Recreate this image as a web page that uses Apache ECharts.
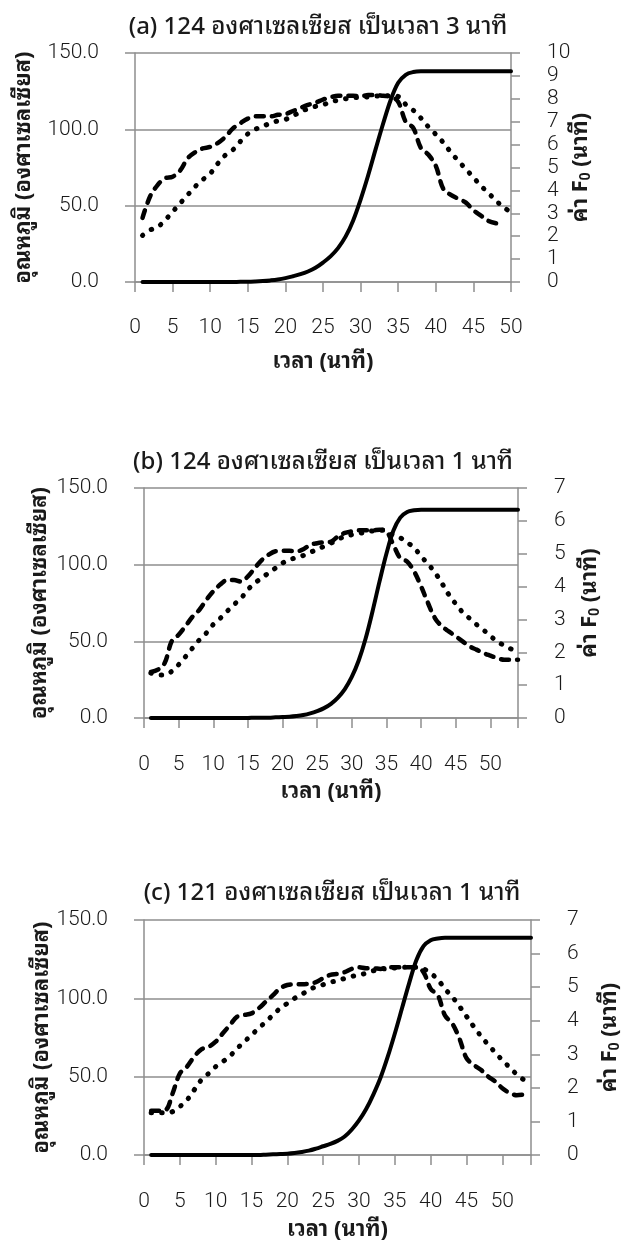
<!DOCTYPE html>
<html><head><meta charset="utf-8">
<script src="https://cdn.jsdelivr.net/npm/echarts@6/dist/echarts.min.js"></script>
<style>html,body{margin:0;padding:0;background:#fff}#c{width:630px;height:1242px}</style>
</head><body><div id="c"></div>
<script>
// ---------- DATA ----------
const titleA = '(a) 124 องศาเซลเซียส เป็นเวลา 3 นาที';
const titleB = '(b) 124 องศาเซลเซียส เป็นเวลา 1 นาที';
const titleC = '(c) 121 องศาเซลเซียส เป็นเวลา 1 นาที';
const xName = 'เวลา (นาที)';
const yLeftName = 'อุณหภูมิ (องศาเซลเซียส)';
const yRightName = 'ค่า F{s|0} (นาที)';
const tempTicks = [0, 50, 100, 150];

const minutesA = [1,2,3,4,5,6,7,8,9,10,11,12,13,14,15,16,17,18,19,20,21,22,23,24,25,26,27,28,29,30,31,32,33,34,35,36,37,38,39,40,41,42,43,44,45,46,47,48,49,50];
const minutesB = [1,2,3,4,5,6,7,8,9,10,11,12,13,14,15,16,17,18,19,20,21,22,23,24,25,26,27,28,29,30,31,32,33,34,35,36,37,38,39,40,41,42,43,44,45,46,47,48,49,50,51,52,53,54];
const minutesC = [1,2,3,4,5,6,7,8,9,10,11,12,13,14,15,16,17,18,19,20,21,22,23,24,25,26,27,28,29,30,31,32,33,34,35,36,37,38,39,40,41,42,43,44,45,46,47,48,49,50,51,52,53,54];

const tempDashA = [42,56,63.5,68,69,73,81,85,87.5,88.5,91,95,100.5,104,107,108.5,108.5,108.5,109.5,110,112,114,116,117.5,119.5,121,122,122,122,121.7,122.5,122.5,122,121.5,118,105,101,88,83.5,76,61,57,54.5,52,47,43.5,40,38.5,38];
const tempDotA = [30.5,34,36,40.5,46,51.5,57,62.5,67,71,77.5,83,86.5,92,97,100,102,104,105.5,106.5,108.7,111.5,113.5,115,116,118,119,120,120.7,121,121.3,121.7,122,122,121.5,116.3,112.5,107.5,101.7,96.7,91.3,85,79.3,73.9,68.5,63,58.3,53.3,49,45.7];
const f0A = [0,0,0,0,0,0,0,0,0,0,0,0,0,0.01,0.01,0.02,0.04,0.07,0.11,0.17,0.25,0.34,0.46,0.62,0.85,1.12,1.48,1.98,2.68,3.6,4.65,5.8,6.92,7.95,8.7,9.05,9.17,9.2,9.2,9.2,9.2,9.2,9.2,9.2,9.2,9.2,9.2,9.2,9.2,9.2];

const tempDashB = [30,31.5,36,50,54.3,60,66,70.6,77,82.6,87,90,90,89,92.4,97.8,103,106.5,108.7,109,109,108.7,110,113,114,114.6,115,118.5,120.7,121.7,122.4,122.4,122.4,122.8,121.7,113,104.3,102,95.6,85.9,75,65.2,59.8,56.5,53.3,50,46.7,44.6,42.4,40.7,39.1,38,38,38];
const tempDotB = [29.3,28,28,30.4,34.8,40,45.6,51,55.4,61,65,69.6,74,78,83.7,88,91.3,94.6,97.8,101,103.3,104.5,106,108,110,112,114,116.5,118.5,119.5,120.3,121.2,122,122.4,122,119,117.5,114.5,111,105.5,100.5,95,88,80.5,74.5,69,65,61,57.5,53.5,50,47.2,45,43.5];
const f0B = [0,0,0,0,0,0,0,0,0,0,0,0,0,0,0,0.01,0.01,0.01,0.02,0.03,0.04,0.06,0.09,0.14,0.21,0.3,0.43,0.62,0.88,1.25,1.75,2.42,3.25,4.15,5.0,5.7,6.1,6.27,6.32,6.34,6.34,6.34,6.34,6.34,6.34,6.34,6.34,6.34,6.34,6.34,6.34,6.34,6.34,6.34];

const tempDashC = [28.3,28.3,28.7,39.4,52,56.4,62.8,67.4,69,72.3,77.7,83,88.3,89.4,90.4,93.6,97.9,102,106.4,108.5,109,109,109.3,110.3,112.9,115,115.6,116.7,118.8,119.8,119.2,119.2,118.8,119.8,119.8,119.8,119.8,119.8,116.7,106,102,89,84,74.5,61.8,57.6,54.4,50.2,47,42.6,39.7,38.2,38.6];
const tempDotC = [27,27,27,27.7,30.9,35.1,41.5,47.9,52,56.4,59.6,63.2,68,72.3,76.6,80.9,85,89.4,93.6,96.8,100,102.5,105.3,107.4,108.7,110.3,111.2,112.7,114,114.9,116,117.6,118.6,119,119.4,119.8,119.8,119.8,118.8,116,112,106,101,95,88.5,82,76,70.5,65.5,60.5,56,51.5,48];
const f0C = [0,0,0,0,0,0,0,0,0,0,0,0,0,0,0,0,0.01,0.02,0.03,0.04,0.06,0.09,0.13,0.19,0.26,0.33,0.42,0.55,0.76,1.03,1.37,1.8,2.3,2.92,3.62,4.37,5.12,5.8,6.22,6.4,6.45,6.47,6.47,6.47,6.47,6.47,6.47,6.47,6.47,6.47,6.47,6.47,6.47,6.47];

// ---------- LAYOUT / STYLE ----------
const THAI = "'Noto Sans Thai Looped','Noto Sans Thai',Tahoma,Loma,Garuda,'Noto Sans',sans-serif";
const NUM = "Roboto,'Liberation Sans',sans-serif";
const AX = '#8e8e8e';
const TXT = '#1a1a1a';

const panels = [
  { title: titleA, minutes: minutesA, dash: tempDashA, dot: tempDotA, f0: f0A, xMax: 50, fMax: 10,
    grid: { left: 135, top: 53, width: 376, height: 229 }, tx: 318, ty: 12, yGap: 100, rGap: 58, xGap: 69, xLab: 35 },
  { title: titleB, minutes: minutesB, dash: tempDashB, dot: tempDotB, f0: f0B, xMax: 54, fMax: 7,
    grid: { left: 144, top: 488, width: 374, height: 230 }, tx: 323, ty: 447, yGap: 93, rGap: 60, xGap: 63, xLab: 36 },
  { title: titleC, minutes: minutesC, dash: tempDashC, dot: tempDotC, f0: f0C, xMax: 54, fMax: 7,
    grid: { left: 144, top: 920, width: 387, height: 236 }, tx: 332, ty: 878, yGap: 91, rGap: 67, xGap: 64, xLab: 36 }
];

const pairs = (xs, ys) => ys.map((v, i) => [xs[i], v]);
const axisLineStyle = { color: AX, width: 1.5 };
const labelStyle = { color: TXT, fontFamily: NUM, fontSize: 21, fontWeight: 300 };
const nameStyle = { color: TXT, fontFamily: THAI, fontSize: 22, fontWeight: 'bold' };

const option = { animation: false, backgroundColor: '#fff', title: [], grid: [], xAxis: [], yAxis: [], series: [] };

panels.forEach((p, i) => {
  option.title.push({ text: p.title, left: p.tx, top: p.ty, textAlign: 'center', padding: 0,
    textStyle: { color: TXT, fontFamily: THAI, fontSize: 24, fontWeight: 500, lineHeight: 30 } });
  option.grid.push(Object.assign({ containLabel: false }, p.grid));
  option.xAxis.push({
    type: 'value', gridIndex: i, min: 0, max: p.xMax, interval: 5,
    name: xName, nameLocation: 'middle', nameGap: p.xGap, nameTextStyle: nameStyle,
    axisLine: { show: true, onZero: false, lineStyle: axisLineStyle },
    axisTick: { show: true, length: 10, lineStyle: axisLineStyle },
    splitLine: { show: false },
    axisLabel: Object.assign({ margin: p.xLab, formatter: v => (v % 5 === 0 ? String(v) : '') }, labelStyle)
  });
  option.yAxis.push({
    type: 'value', gridIndex: i, position: 'left', min: tempTicks[0], max: tempTicks[tempTicks.length - 1], interval: tempTicks[1] - tempTicks[0],
    name: yLeftName, nameLocation: 'middle', nameGap: p.yGap, nameRotate: 90, nameMoveOverlap: false, nameTextStyle: nameStyle,
    axisLine: { show: true, lineStyle: axisLineStyle },
    axisTick: { show: true, length: 10, lineStyle: axisLineStyle },
    splitLine: { show: true, lineStyle: axisLineStyle },
    axisLabel: Object.assign({ margin: 36, formatter: v => v.toFixed(1) }, labelStyle)
  });
  option.yAxis.push({
    type: 'value', gridIndex: i, position: 'right', min: 0, max: p.fMax, interval: 1,
    name: yRightName, nameLocation: 'middle', nameGap: p.rGap, nameRotate: 90, nameMoveOverlap: false,
    nameTextStyle: Object.assign({ rich: { s: { fontFamily: NUM, fontSize: 14, fontWeight: 'bold', color: TXT, verticalAlign: 'bottom', padding: [10, 0, 0, 0] } } }, nameStyle),
    axisLine: { show: true, lineStyle: axisLineStyle },
    axisTick: { show: true, length: 9, lineStyle: axisLineStyle },
    splitLine: { show: false },
    axisLabel: Object.assign({ margin: 36, formatter: v => String(v) }, labelStyle)
  });
  const base = { type: 'line', xAxisIndex: i, symbol: 'none', showSymbol: false, smooth: 0.35, silent: true };
  option.series.push(Object.assign({}, base, { name: 'dash' + i, yAxisIndex: 2 * i, data: pairs(p.minutes, p.dash),
    lineStyle: { color: '#000', width: 4.5, type: [8, 8], cap: 'round', join: 'round' } }));
  option.series.push(Object.assign({}, base, { name: 'dot' + i, yAxisIndex: 2 * i, data: pairs(p.minutes, p.dot),
    lineStyle: { color: '#000', width: 5, type: [0.5, 10], cap: 'round', join: 'round' } }));
  option.series.push(Object.assign({}, base, { name: 'f0' + i, yAxisIndex: 2 * i + 1, data: pairs(p.minutes, p.f0),
    lineStyle: { color: '#000', width: 4, type: 'solid', cap: 'round', join: 'round' } }));
});

const chart = echarts.init(document.getElementById('c'), null, { renderer: 'canvas' });
chart.setOption(option);
</script>
</body></html>
